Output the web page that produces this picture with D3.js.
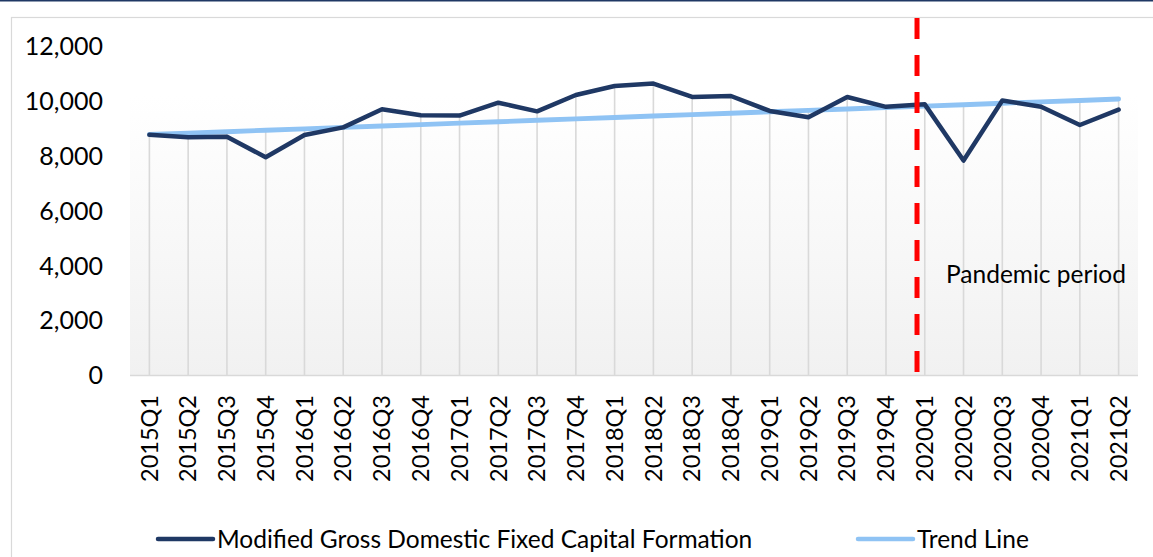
<!DOCTYPE html>
<html>
<head>
<meta charset="utf-8">
<script src="https://cdn.jsdelivr.net/npm/d3@7"></script>
<style>
  body { margin: 0; background: #fff; }
  text { font-family: Lato, "Open Sans", sans-serif; fill: #000; }
</style>
</head>
<body>
<div id="chart"></div>
<script>
// Quarters shown on the x axis
const quarters = [
  "2015Q1", "2015Q2", "2015Q3", "2015Q4", "2016Q1", "2016Q2", "2016Q3", "2016Q4",
  "2017Q1", "2017Q2", "2017Q3", "2017Q4", "2018Q1", "2018Q2", "2018Q3", "2018Q4",
  "2019Q1", "2019Q2", "2019Q3", "2019Q4", "2020Q1", "2020Q2", "2020Q3", "2020Q4",
  "2021Q1", "2021Q2"
];

// Modified gross domestic fixed capital formation
const gfcfValues = [
  8780, 8690, 8710, 7960, 8770, 9050, 9710, 9490,
  9480, 9950, 9635, 10230, 10560, 10650, 10160, 10195,
  9650, 9420, 10160, 9800, 9890, 7840, 10030, 9805,
  9137, 9696
];

// Trend line values at each quarter
const trendValues = [
  8790, 8840, 8890, 8945, 8995, 9050, 9100, 9150,
  9205, 9255, 9310, 9360, 9410, 9465, 9515, 9565,
  9620, 9670, 9720, 9775, 9825, 9875, 9930, 9980,
  10030, 10085
];

const yTicks = [0, 2000, 4000, 6000, 8000, 10000, 12000];
const pandemicStart = 19.8; // in quarter index units
const pandemicLabel = "Pandemic period";
const seriesNames = ["Modified Gross Domestic Fixed Capital Formation", "Trend Line"];

const width = 1153, height = 557;
const svg = d3.select("#chart").append("svg")
  .attr("width", width)
  .attr("height", height);

// Plot area setup
const plot = { left: 130, right: 1138, top: 46.5, bottom: 375.5 };

const x = d3.scalePoint()
  .domain(quarters)
  .range([plot.left, plot.right])
  .padding(0.5);

const xIndex = d3.scaleLinear()
  .domain([0, quarters.length - 1])
  .range([x(quarters[0]), x(quarters[quarters.length - 1])]);

const y = d3.scaleLinear()
  .domain([0, 12000])
  .range([plot.bottom, plot.top]);

// Top rule and chart border
svg.append("rect")
  .attr("x", 0).attr("y", 0)
  .attr("width", width).attr("height", 1.5)
  .style("fill", "#1f3864");

svg.append("rect")
  .attr("x", 11.5).attr("y", 17.5)
  .attr("width", width + 10).attr("height", height)
  .style("fill", "none")
  .style("stroke", "#d9d9d9")
  .style("stroke-width", 1.2);

// Plot area gradient
const grad = svg.append("defs").append("linearGradient")
  .attr("id", "plot-bg")
  .attr("x1", "0%").attr("y1", "0%")
  .attr("x2", "0%").attr("y2", "100%");
grad.append("stop").attr("offset", "0").attr("stop-color", "#ffffff");
grad.append("stop").attr("offset", "0.15").attr("stop-color", "#ffffff");
grad.append("stop").attr("offset", "1").attr("stop-color", "#f1f1f1");

svg.append("rect")
  .attr("x", plot.left).attr("y", plot.top)
  .attr("width", plot.right - plot.left)
  .attr("height", plot.bottom - plot.top)
  .style("fill", "url(#plot-bg)");

// Drop lines from the highest value in each quarter
svg.append("g").selectAll("line")
  .data(quarters)
  .enter().append("line")
  .attr("x1", d => x(d)).attr("x2", d => x(d))
  .attr("y1", y(0))
  .attr("y2", (d, i) => y(Math.max(gfcfValues[i], trendValues[i])))
  .style("stroke", "#d9d9d9")
  .style("stroke-width", 1.6);

// X axis line
svg.append("line")
  .attr("x1", plot.left).attr("x2", plot.right)
  .attr("y1", y(0)).attr("y2", y(0))
  .style("stroke", "#d9d9d9")
  .style("stroke-width", 1.6);

// Y axis labels
svg.append("g").selectAll("text")
  .data(yTicks)
  .enter().append("text")
  .attr("x", 103)
  .attr("y", d => y(d))
  .attr("dy", "0.35em")
  .style("text-anchor", "end")
  .style("font-size", "25px")
  .text(d => d3.format(",")(d));

// X axis labels, rotated
svg.append("g").selectAll("text")
  .data(quarters)
  .enter().append("text")
  .attr("transform", d => `translate(${x(d)}, 395) rotate(-90)`)
  .attr("dy", "0.35em")
  .style("text-anchor", "end")
  .style("font-size", "23.5px")
  .text(d => d);

// Series lines
const lineGen = d3.line()
  .x((d, i) => x(quarters[i]))
  .y(d => y(d));

svg.append("path")
  .datum(trendValues)
  .attr("d", lineGen)
  .style("fill", "none")
  .style("stroke", "#8fc3f4")
  .style("stroke-width", 4.8)
  .style("stroke-linecap", "round");

svg.append("path")
  .datum(gfcfValues)
  .attr("d", lineGen)
  .style("fill", "none")
  .style("stroke", "#1f3864")
  .style("stroke-width", 4.5)
  .style("stroke-linejoin", "round")
  .style("stroke-linecap", "round");

// Pandemic marker
svg.append("line")
  .attr("x1", xIndex(pandemicStart)).attr("x2", xIndex(pandemicStart))
  .attr("y1", 18).attr("y2", y(0))
  .style("stroke", "#ff0000")
  .style("stroke-width", 5)
  .style("stroke-dasharray", "21,16");

svg.append("text")
  .attr("x", 946)
  .attr("y", 283)
  .style("font-size", "24.5px")
  .text(pandemicLabel);

// Legend
const legendItems = [
  { name: seriesNames[0], color: "#1f3864", x: 158 },
  { name: seriesNames[1], color: "#8fc3f4", x: 858 }
];

const legend = svg.append("g").attr("class", "legend");

legend.selectAll("line")
  .data(legendItems)
  .enter().append("line")
  .attr("x1", d => d.x).attr("x2", d => d.x + 55)
  .attr("y1", 539).attr("y2", 539)
  .style("stroke", d => d.color)
  .style("stroke-width", 4.5)
  .style("stroke-linecap", "round");

legend.selectAll("text")
  .data(legendItems)
  .enter().append("text")
  .attr("x", d => d.x + 59)
  .attr("y", 539)
  .attr("dy", "0.35em")
  .style("font-size", "24.5px")
  .text(d => d.name);
</script>
</body>
</html>
